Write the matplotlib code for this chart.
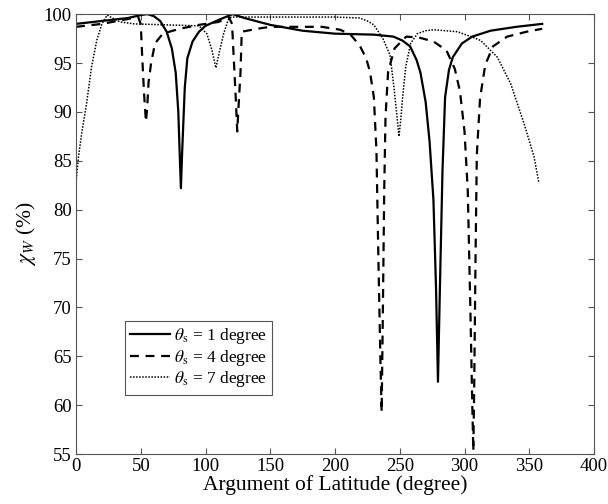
import matplotlib
matplotlib.use("Agg")
import matplotlib.pyplot as plt

plt.rcParams["font.family"] = ["Liberation Serif", "DejaVu Serif"]
plt.rcParams["mathtext.fontset"] = "stix"

# theta_s = 1 degree
x1 = [0, 20, 40, 50, 55, 60, 65, 70, 74, 77, 79, 80, 81, 82, 84, 86, 90, 95, 100,
      110, 121, 130, 150, 175, 200, 230, 245, 252, 258, 263, 266, 270, 273, 276,
      278, 279.5, 281, 283, 285, 288, 291, 298, 306, 320, 340, 360]
y1 = [99.0, 99.3, 99.6, 99.9, 100.0, 99.8, 99.3, 98.2, 96.5, 94.0, 90.0, 86.0, 82.2,
      86.0, 92.5, 95.5, 97.2, 98.2, 98.8, 99.4, 100.0, 99.6, 98.9, 98.3, 98.0, 97.9,
      97.7, 97.3, 96.7, 95.3, 94.0, 91.0, 87.0, 81.0, 72.0, 62.4, 72.0, 84.0, 91.5,
      94.3, 95.6, 97.0, 97.7, 98.3, 98.7, 99.0]

# theta_s = 4 degree
x4 = [0, 20, 40, 48, 50, 51, 52.5, 54, 55, 56, 58, 61, 67, 80, 95, 110, 118, 120.5,
      122, 123.5, 124.5, 125.5, 127, 128, 140, 150, 190, 204, 212, 219, 224, 227,
      230, 232, 233.5, 235, 236, 237, 238, 239, 241, 246, 255, 265, 276, 286, 292.5,
      296.5, 300, 302.5, 304.5, 306, 306.8, 307.5, 308.5, 309.5, 312, 316, 322, 333,
      348, 360]
y4 = [98.7, 99.0, 99.5, 99.7, 99.0, 96.0, 92.0, 89.0, 90.5, 93.0, 95.0, 97.0, 98.0,
      98.5, 98.9, 99.2, 99.7, 99.0, 95.0, 91.0, 88.0, 90.5, 94.0, 98.2, 98.5, 98.7,
      98.7, 98.4, 97.9, 96.8, 95.5, 94.1, 91.5, 86.0, 75.0, 65.0, 59.3, 70.0, 82.0,
      89.5, 94.1, 96.5, 97.7, 97.6, 97.2, 96.3, 94.4, 92.1, 88.0, 82.0, 70.0, 60.0,
      55.3, 62.0, 75.0, 85.6, 91.4, 94.8, 96.7, 97.7, 98.2, 98.5]

# theta_s = 7 degree
x7 = [0, 2, 4.4, 8.2, 12, 16, 20, 24, 28, 34, 45, 70, 95, 101, 105, 108, 111, 114,
      117.5, 120, 150, 200, 219, 225, 230, 237, 242.5, 245.5, 247.5, 249.4, 251, 252,
      254.6, 258.4, 263.6, 270, 276.4, 294.4, 305, 312.5, 325.3, 335.6, 346, 353.7,
      357.5]
y7 = [82.8, 85.5, 87.8, 90.9, 94.6, 97.3, 99.0, 99.9, 99.6, 99.2, 99.0, 98.9, 98.8,
      98.0, 96.3, 94.5, 96.3, 98.0, 99.4, 99.7, 99.7, 99.7, 99.6, 99.3, 98.9, 97.5,
      95.8, 92.5, 90.0, 87.5, 89.5, 91.2, 94.6, 97.0, 98.0, 98.3, 98.4, 98.2, 97.7,
      97.3, 95.6, 92.9, 88.8, 85.4, 82.7]

labels = [r"$\theta_{\mathrm{s}}$ = 1 degree",
          r"$\theta_{\mathrm{s}}$ = 4 degree",
          r"$\theta_{\mathrm{s}}$ = 7 degree"]

fig = plt.figure(figsize=(6.08, 5.04), dpi=100)
ax = fig.add_axes([0.125, 0.099, 0.852, 0.873])

ax.plot(x1, y1, color="black", lw=1.6, ls="-", label=labels[0])
ax.plot(x4, y4, color="black", lw=1.6, ls=(0, (4, 3)), label=labels[1])
ax.plot(x7, y7, color="black", lw=1.1, ls=(0, (1, 1)), label=labels[2])

ax.set_xlim(0, 400)
ax.set_ylim(55, 100)
ax.set_xticks(range(0, 401, 50))
ax.set_yticks(range(55, 101, 5))
ax.tick_params(direction="in", top=True, right=True, labelsize=13.5,
               length=4, width=0.8, color="#555555", pad=3)
for sp in ax.spines.values():
    sp.set_color("#555555")
    sp.set_linewidth(0.8)

ax.set_xlabel("Argument of Latitude (degree)", fontsize=15.5, labelpad=0)
ax.set_ylabel(r"$\chi_W$ (%)", fontsize=15.5, labelpad=4)

leg = ax.legend(loc="lower left", bbox_to_anchor=(0.095, 0.135), fontsize=12.5,
                fancybox=False, edgecolor="#555555", framealpha=1,
                handlelength=2.3, handletextpad=0.2, labelspacing=0.1,
                borderpad=0.3, borderaxespad=0)
leg.get_frame().set_linewidth(0.8)

fig.savefig("out.png", dpi=100)
